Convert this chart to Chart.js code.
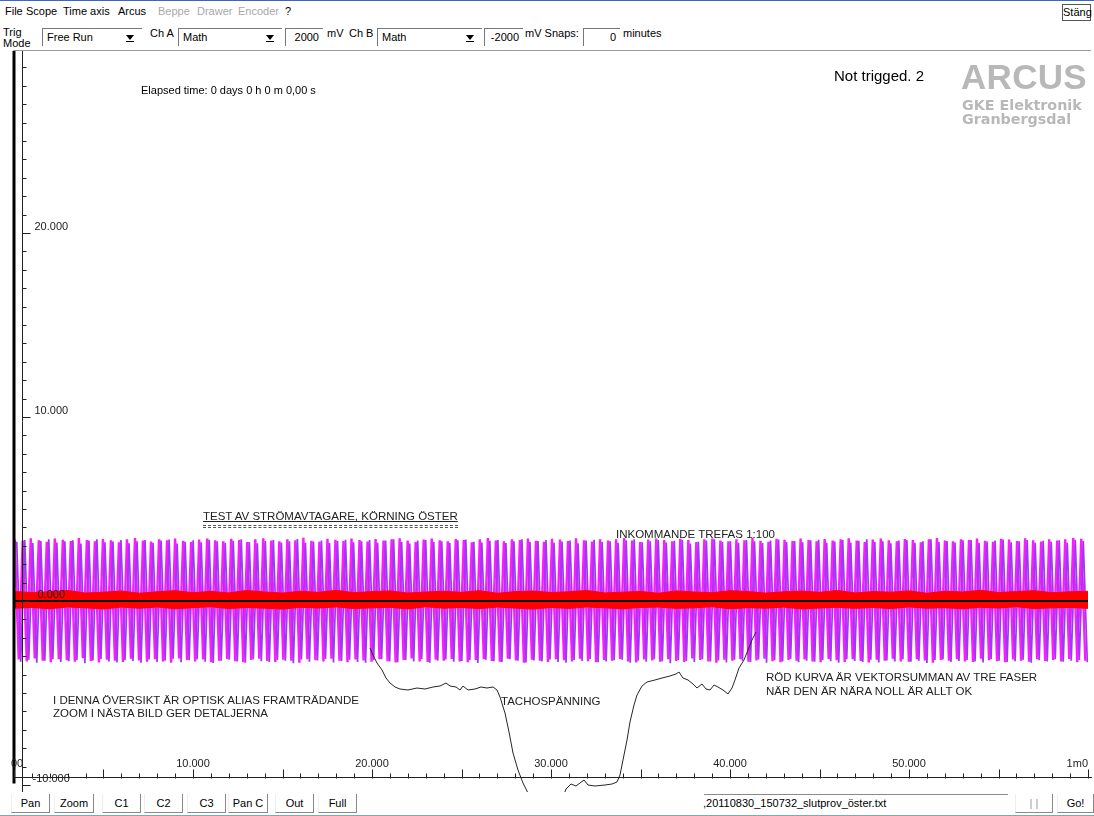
<!DOCTYPE html>
<html>
<head>
<meta charset="utf-8">
<script src="https://cdn.jsdelivr.net/npm/chart.js@4.4.0/dist/chart.umd.min.js"></script>
<style>
body{margin:0;width:1094px;height:816px;background:#fff;font-family:"Liberation Sans",Arial,sans-serif;font-size:11px;color:#000;position:relative;overflow:hidden}
.a{position:absolute;white-space:nowrap;line-height:13px}
.grey{color:#a8a8a8}
.combo{position:absolute;top:28px;height:17px;background:#fff;border-left:1px solid #777;border-top:1px solid #777}
.combo span{position:absolute;left:4px;top:2px}
.combo i{position:absolute;right:8px;top:6px;width:0;height:0;border-left:4px solid transparent;border-right:4px solid transparent;border-top:5px solid #000}
.combo b{position:absolute;right:8px;top:12px;width:8px;height:1px;background:#000}
.box{position:absolute;top:28px;height:17px;background:#fff;border-left:1px solid #777;border-top:1px solid #777;text-align:right}
.box span{position:absolute;right:4px;top:2px}
.btn{position:absolute;top:794px;height:18px;border-right:1px solid #888;border-bottom:1px solid #888;border-left:1px solid #eee;text-align:center;line-height:18px;background:#fff}
.note{position:absolute;white-space:nowrap;font-size:11.5px;line-height:13px;color:#222}
#chartWrap{position:absolute;left:0;top:51px;width:1092px;height:741px}
</style>
</head>
<body>
<div style="position:absolute;left:0;top:0;width:1094px;height:1px;background:#3a66c8"></div>
<!-- menu -->
<div class="a" style="left:5px;top:5px">File</div>
<div class="a" style="left:26px;top:5px">Scope</div>
<div class="a" style="left:63px;top:5px">Time axis</div>
<div class="a" style="left:118px;top:5px">Arcus</div>
<div class="a grey" style="left:158px;top:5px">Beppe</div>
<div class="a grey" style="left:197px;top:5px">Drawer</div>
<div class="a grey" style="left:238px;top:5px">Encoder</div>
<div class="a" style="left:285px;top:5px">?</div>
<div class="a" style="left:1062px;top:4px;width:27px;height:15px;border:1px solid #555;text-align:center;line-height:15px">Stäng</div>

<!-- controls -->
<div class="a" style="left:3px;top:26px">Trig</div>
<div class="a" style="left:3px;top:37px;height:11px;overflow:hidden">Mode</div>
<div class="combo" style="left:42px;width:99px"><span>Free Run</span><i></i><b></b></div>
<div class="a" style="left:150px;top:27px">Ch A</div>
<div class="combo" style="left:178px;width:103px"><span>Math</span><i></i><b></b></div>
<div class="box" style="left:285px;width:37px"><span>2000</span></div>
<div class="a" style="left:327px;top:27px">mV</div>
<div class="a" style="left:349px;top:27px">Ch B</div>
<div class="combo" style="left:377px;width:104px"><span>Math</span><i></i><b></b></div>
<div class="box" style="left:484px;width:38px"><span>-2000</span></div>
<div class="a" style="left:525px;top:27px">mV Snaps:</div>
<div class="box" style="left:583px;width:36px"><span>0</span></div>
<div class="a" style="left:623px;top:27px">minutes</div>
<div style="position:absolute;left:13px;top:50px;width:1078px;height:1px;background:#9a9a9a"></div>

<div id="chartWrap"><canvas id="scopeChart" width="1092" height="741"></canvas></div>

<!-- texts in the plot -->
<div class="a" style="left:141px;top:84px">Elapsed time: 0 days 0 h 0 m 0,00 s</div>
<div class="a" style="left:834px;top:67px;font-size:15px;line-height:18px">Not trigged. 2</div>
<div class="a" style="left:961px;top:58px;font-size:35px;line-height:38px;font-weight:bold;color:#b8b8b8;letter-spacing:0.3px">ARCUS</div>
<div class="a" style="left:962px;top:98px;font-family:'DejaVu Sans';font-weight:bold;font-size:14.3px;line-height:14px;color:#b8b8b8">GKE Elektronik</div>
<div class="a" style="left:962px;top:112px;font-family:'DejaVu Sans';font-weight:bold;font-size:14.3px;line-height:14px;color:#b8b8b8">Granbergsdal</div>

<div class="note" style="left:203px;top:510px;text-decoration:underline">TEST AV STRÖMAVTAGARE, KÖRNING ÖSTER</div>
<div style="position:absolute;left:203px;top:525px;width:255px;height:1px;border-top:1px dashed #555;border-bottom:1px dashed #555"></div>
<div class="note" style="left:616px;top:528px">INKOMMANDE TREFAS 1:100</div>
<div class="note" style="left:53px;top:694px">I DENNA ÖVERSIKT ÄR OPTISK ALIAS FRAMTRÄDANDE</div>
<div class="note" style="left:53px;top:707px">ZOOM I NÄSTA BILD GER DETALJERNA</div>
<div class="note" style="left:501px;top:695px">TACHOSPÄNNING</div>
<div class="note" style="left:766px;top:671px">RÖD KURVA ÄR VEKTORSUMMAN AV TRE FASER</div>
<div class="note" style="left:766px;top:685px">NÄR DEN ÄR NÄRA NOLL ÄR ALLT OK</div>

<!-- bottom bar -->
<div class="btn" style="left:11px;width:37px">Pan</div>
<div class="btn" style="left:54px;width:38px">Zoom</div>
<div class="btn" style="left:102px;width:37px">C1</div>
<div class="btn" style="left:144px;width:37px">C2</div>
<div class="btn" style="left:187px;width:37px">C3</div>
<div class="btn" style="left:228px;width:38px">Pan C</div>
<div class="btn" style="left:275px;width:37px">Out</div>
<div class="btn" style="left:318px;width:37px">Full</div>
<div style="position:absolute;left:704px;top:794px;width:304px;height:1px;background:#8a8a8a"></div>
<div class="a" style="left:703px;top:797px">,20110830_150732_slutprov_öster.txt</div>
<div class="btn" style="left:1015px;width:36px;color:#999">| |</div>
<div class="btn" style="left:1057px;width:35px">Go!</div>
<div style="position:absolute;left:0;top:815px;width:1094px;height:1px;background:#7f9fdf"></div>

<script>
// Tidsaxel / spänningsaxel (mV)
const xTickValues = [0, 10000, 20000, 30000, 40000, 50000, 60000];
const xTickLabels = ['00', '10.000', '20.000', '30.000', '40.000', '50.000', '1m0'];
const yTickValues = [-10000, 0, 10000, 20000];
const yTickLabels = ['-10.000', '0.000', '10.000', '20.000'];

// Inkommande trefas: topp/dal per period (mV), en period = cycleTime
const cycleStart = 40;
const cycleTime = 448;
const magentaHi = [
  3350,3280,3410,3300,3220,3390,3330,3260,3420,3310,
  3240,3370,3300,3190,3350,3420,3280,3230,3360,3300,
  3400,3270,3210,3340,3390,3300,3250,3380,3320,3200,
  3360,3410,3290,3240,3350,3300,3430,3270,3220,3380,
  3330,3260,3400,3310,3230,3370,3290,3350,3410,3280,
  3210,3340,3390,3300,3250,3370,3320,3190,3350,3420,
  3290,3240,3360,3310,3400,3270,3220,3380,3340,3260,
  3410,3300,3230,3360,3290,3350,3420,3280,3210,3340,
  3390,3310,3250,3380,3320,3200,3360,3400,3290,3240,
  3350,3300,3430,3270,3220,3380,3330,3260,3400,3310,
  3240,3370,3290,3350,3410,3280,3210,3340,3390,3300,
  3250,3370,3320,3190,3350,3420,3290,3240,3360,3310,
  3400,3270,3220,3380,3340,3260,3410,3300,3230,3360,
  3290,3350,3420,3380
];
const magentaLo = [
  -3180,-3290,-3120,-3240,-3330,-3160,-3220,-3300,-3110,-3260,
  -3340,-3190,-3250,-3310,-3140,-3230,-3300,-3170,-3280,-3350,
  -3120,-3210,-3290,-3180,-3330,-3240,-3150,-3270,-3320,-3200,
  -3130,-3260,-3310,-3190,-3240,-3350,-3170,-3220,-3290,-3140,
  -3250,-3320,-3180,-3230,-3300,-3160,-3270,-3340,-3200,-3120,
  -3280,-3310,-3190,-3240,-3150,-3290,-3330,-3210,-3170,-3260,
  -3300,-3140,-3230,-3350,-3190,-3250,-3310,-3160,-3220,-3280,
  -3130,-3270,-3320,-3200,-3240,-3150,-3290,-3340,-3180,-3230,
  -3300,-3170,-3260,-3310,-3120,-3210,-3280,-3350,-3190,-3240,
  -3160,-3300,-3230,-3140,-3270,-3330,-3200,-3250,-3180,-3290,
  -3320,-3150,-3220,-3310,-3170,-3260,-3340,-3190,-3240,-3130,
  -3280,-3300,-3160,-3230,-3350,-3200,-3250,-3170,-3290,-3310,
  -3140,-3220,-3270,-3330,-3180,-3240,-3300,-3160,-3260,-3210,
  -3290,-3150,-3320,-3250
];
const purpleHi = [
  3220,3310,3150,3260,3350,3180,3240,3300,3120,3280,
  3360,3190,3230,3320,3140,3250,3310,3170,3290,3340,
  3130,3220,3300,3190,3330,3250,3160,3270,3350,3200,
  3140,3260,3320,3180,3240,3370,3170,3230,3290,3150,
  3260,3330,3190,3240,3310,3160,3280,3350,3210,3130,
  3290,3320,3200,3250,3160,3300,3340,3220,3180,3270,
  3310,3150,3240,3360,3200,3260,3320,3170,3230,3290,
  3140,3280,3330,3210,3250,3160,3300,3350,3190,3240,
  3310,3180,3270,3320,3130,3220,3290,3360,3200,3250,
  3170,3310,3240,3150,3280,3340,3210,3260,3190,3300,
  3330,3160,3230,3320,3180,3270,3350,3200,3250,3140,
  3290,3310,3170,3240,3360,3210,3260,3180,3300,3320,
  3150,3230,3280,3340,3190,3250,3310,3170,3270,3220,
  3300,3160,3330,3260
];
const purpleLo = [
  -3300,-3190,-3350,-3240,-3160,-3320,-3270,-3200,-3380,-3230,
  -3150,-3290,-3340,-3210,-3260,-3360,-3180,-3310,-3250,-3140,
  -3330,-3220,-3170,-3300,-3370,-3240,-3190,-3280,-3350,-3160,
  -3270,-3320,-3200,-3250,-3380,-3180,-3300,-3230,-3150,-3340,
  -3260,-3190,-3310,-3360,-3220,-3170,-3290,-3330,-3200,-3280,
  -3150,-3350,-3240,-3180,-3300,-3260,-3210,-3370,-3190,-3270,
  -3320,-3160,-3250,-3340,-3230,-3290,-3180,-3310,-3360,-3200,
  -3260,-3150,-3330,-3280,-3220,-3190,-3350,-3240,-3300,-3170,
  -3270,-3380,-3210,-3260,-3320,-3160,-3290,-3230,-3340,-3190,
  -3250,-3310,-3180,-3360,-3220,-3280,-3150,-3330,-3240,-3300,
  -3200,-3270,-3350,-3170,-3260,-3310,-3190,-3340,-3230,-3280,
  -3160,-3300,-3250,-3370,-3210,-3180,-3320,-3260,-3200,-3290,
  -3340,-3170,-3240,-3310,-3270,-3190,-3350,-3220,-3280,-3160,
  -3300,-3250,-3200,-3330
];

// Röd kurva (vektorsumman): övre/undre kant var 1000 ms
const redStep = 1000;
const redTop = [
  520,460,500,570,430,480,540,420,500,560,
  450,520,440,570,490,430,530,470,580,450,
  510,550,430,490,530,470,560,420,510,540,
  460,500,570,440,480,520,420,550,490,450,
  560,510,430,500,540,470,570,440,510,480,
  550,420,530,490,580,460,510,560,450,500,
  530
];
const redBottom = [
  -390,-350,-420,-320,-370,-430,-330,-390,-320,-420,
  -360,-310,-410,-350,-390,-440,-340,-380,-320,-410,
  -370,-340,-430,-310,-390,-350,-410,-330,-380,-440,
  -350,-400,-320,-370,-420,-350,-330,-400,-370,-310,
  -420,-360,-390,-330,-430,-380,-340,-400,-350,-410,
  -320,-390,-360,-420,-340,-380,-310,-410,-370,-350,
  -400
];

// Nollinje
const zeroTime = [0, 60000];
const zeroLevel = [0, 0];

// Tachospänning
const tachoTime = [
  19888,20056,20279,20559,20782,21006,21285,21564,22011,22514,
  22961,23408,23799,24134,24358,24693,24916,25084,25363,25754,
  26089,26425,26760,26983,27151,27430,27654,27877,28156,28436,
  28715,29385,30503,30838,31117,31397,31620,31844,32067,32458,
  33017,33408,33687,33855,34022,34246,34413,34637,34804,35084,
  35363,35810,36201,36648,36983,37151,37374,37654,37933,38156,
  38436,38659,38883,39106,39330,39609,39888,40112,40279,40503,
  40782,41006,41229,41453
];
const tachoVolt = [
  -2554,-2935,-3370,-3750,-4185,-4457,-4674,-4783,-4837,-4728,
  -4783,-4674,-4620,-4457,-4620,-4674,-4837,-4620,-4837,-4783,
  -4674,-4728,-4674,-4837,-5217,-6087,-7120,-8261,-9185,-9891,
  -10435,-11087,-11087,-10217,-9946,-10054,-9891,-9728,-10000,-10054,
  -10000,-9946,-9837,-9457,-8641,-7554,-6576,-5652,-5109,-4620,
  -4402,-4293,-4185,-4076,-3967,-3859,-4185,-4293,-4511,-4728,
  -4511,-4783,-4837,-4565,-4674,-4837,-5054,-4728,-4293,-3641,
  -3207,-2663,-2120,-1685
];

const xAxisLevel = -9570;

function zigzag(hi, lo, offset) {
  const pts = [];
  hi.forEach((h, i) => {
    const t = cycleStart + offset + i * cycleTime;
    pts.push({ x: t, y: h });
    pts.push({ x: t + cycleTime / 2, y: lo[i] });
  });
  return pts;
}

const toPoints = (xs, ys) => xs.map((x, i) => ({ x, y: ys[i] }));
const redUpper = redTop.map((v, i) => ({ x: i * redStep, y: v }));
const redLower = redBottom.map((v, i) => ({ x: i * redStep, y: v }));

// Axlar ritas som på oscilloskopet
const scopeAxes = {
  id: 'scopeAxes',
  afterDatasetsDraw(chart) {
    const { ctx, chartArea, scales: { x, y } } = chart;
    const x0 = x.getPixelForValue(0);
    const yAxisX = Math.round(x0 + 8) + 0.5;
    const xAxisY = Math.round(y.getPixelForValue(xAxisLevel)) + 0.5;

    ctx.save();
    // tjock vänsterkant
    ctx.strokeStyle = '#000';
    ctx.lineWidth = 3;
    ctx.beginPath();
    ctx.moveTo(x0, chartArea.top);
    ctx.lineTo(x0, xAxisY + 6);
    ctx.stroke();

    ctx.lineWidth = 1;
    ctx.strokeStyle = '#222';
    ctx.beginPath();
    ctx.moveTo(yAxisX, chartArea.top);
    ctx.lineTo(yAxisX, chartArea.bottom);
    ctx.stroke();

    // y-ticks
    for (let v = -10000; v <= y.max; v += 1000) {
      const py = Math.round(y.getPixelForValue(v)) + 0.5;
      const len = v % 10000 === 0 ? 8 : 4;
      ctx.beginPath();
      ctx.moveTo(yAxisX, py);
      ctx.lineTo(yAxisX + len, py);
      ctx.stroke();
    }

    // x-axel
    ctx.beginPath();
    ctx.moveTo(x0, xAxisY);
    ctx.lineTo(chartArea.right, xAxisY);
    ctx.stroke();
    for (let v = 0; v <= 60000; v += 1000) {
      const px = Math.round(x.getPixelForValue(v)) + 0.5;
      const len = v % 5000 === 0 ? 8 : 4;
      ctx.beginPath();
      ctx.moveTo(px, xAxisY - len);
      ctx.lineTo(px, xAxisY + 1);
      ctx.stroke();
    }

    ctx.fillStyle = '#222';
    ctx.font = '11px "Liberation Sans", Arial, sans-serif';
    ctx.textBaseline = 'middle';
    yTickLabels.forEach((label, i) => {
      const py = y.getPixelForValue(yTickValues[i]);
      ctx.textAlign = 'left';
      ctx.fillText(label, yAxisX + 12 + (yTickValues[i] === 0 ? 3 : 0) - (yTickValues[i] < 0 ? 2 : 0), py - 6);
    });
    xTickLabels.forEach((label, i) => {
      const px = x.getPixelForValue(xTickValues[i]);
      ctx.textAlign = i === 0 ? 'left' : (i === xTickLabels.length - 1 ? 'right' : 'center');
      ctx.fillText(label, i === 0 ? px - 3 : px, xAxisY - 14);
    });
    ctx.restore();
  }
};

new Chart(document.getElementById('scopeChart'), {
  type: 'line',
  data: {
    datasets: [
      { label: 'Tacho', data: toPoints(tachoTime, tachoVolt), borderColor: '#262626', borderWidth: 1, order: 0 },
      { label: 'Noll', data: toPoints(zeroTime, zeroLevel), borderColor: '#000', borderWidth: 2, order: 1 },
      { label: 'Röd övre', data: redUpper, borderColor: '#ff0000', backgroundColor: '#ff0000', borderWidth: 1, fill: '+1', order: 2 },
      { label: 'Röd undre', data: redLower, borderColor: '#ff0000', borderWidth: 1, order: 3 },
      { label: 'Fas B', data: zigzag(purpleHi, purpleLo, cycleTime / 4), borderColor: '#9b3af2', borderWidth: 1.7, order: 4 },
      { label: 'Fas A', data: zigzag(magentaHi, magentaLo, 0), borderColor: '#ff1aff', borderWidth: 2.4, order: 5 }
    ]
  },
  options: {
    responsive: false,
    animation: false,
    events: [],
    layout: { padding: 0 },
    elements: { point: { radius: 0 }, line: { tension: 0 } },
    plugins: { legend: { display: false }, tooltip: { enabled: false } },
    scales: {
      x: { type: 'linear', display: false, min: -782, max: 60223 },
      y: { type: 'linear', display: false, min: -10380, max: 29891 }
    }
  },
  plugins: [scopeAxes]
});
</script>
</body>
</html>
